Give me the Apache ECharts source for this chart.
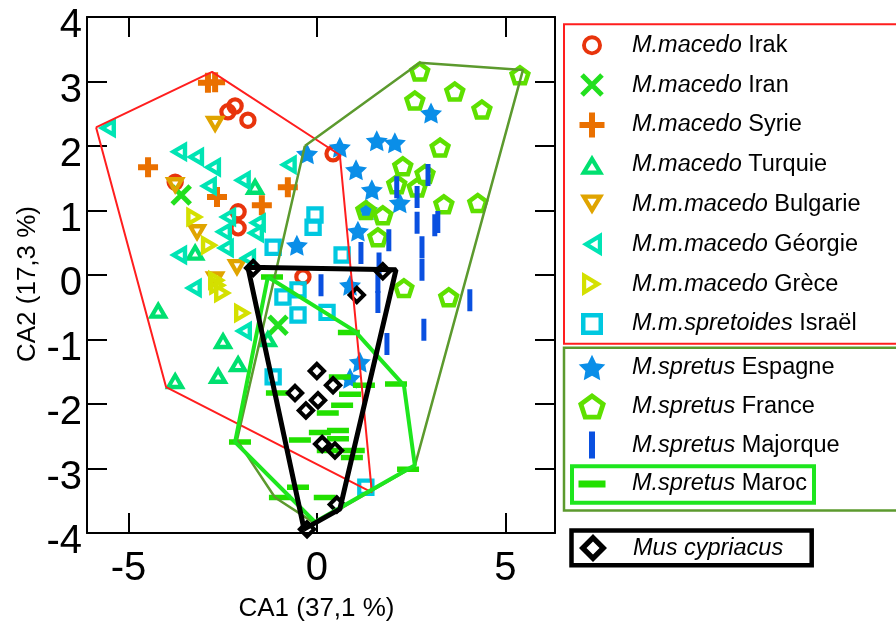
<!DOCTYPE html>
<html><head><meta charset="utf-8">
<script src="https://cdn.jsdelivr.net/npm/echarts@6/dist/echarts.min.js"></script>
<style>html,body{margin:0;padding:0;background:#fff}#c{width:896px;height:632px}</style>
</head><body><div id="c"></div>
<script>
// ---- data ----
const seriesNames = ['M.macedo Irak','M.macedo Iran','M.macedo Syrie','M.macedo Turquie','M.m.macedo Bulgarie','M.m.macedo Géorgie','M.m.macedo Grèce','M.m.spretoides Israël','M.spretus Espagne','M.spretus France','M.spretus Majorque','M.spretus Maroc','Mus cypriacus'];
const xTickValues = [-5, 0, 5];
const yTickValues = [-4, -3, -2, -1, 0, 1, 2, 3, 4];
const irak = [[-3.76,1.44],[-2.36,2.53],[-2.17,2.62],[-1.83,2.40],[-2.09,0.98],[-2.09,0.73],[-0.37,-0.03],[0.43,1.88]];
const iran = [[-3.60,1.24],[-1.03,-0.78]];
const syrie = [[-4.48,1.67],[-2.89,2.98],[-2.70,2.99],[-2.65,1.21],[-1.46,1.08],[-0.77,1.36]];
const turquie = [[-1.64,1.38],[-3.23,0.36],[-4.21,-0.54],[-2.49,-1.01],[-1.30,-0.98],[-2.09,-1.37],[-2.62,-1.55],[-3.76,-1.63]];
const bulgarie = [[-2.70,2.33],[-3.76,1.38],[-3.18,0.65],[-2.12,0.11],[-2.70,-0.08]];
const georgie = [[-5.57,2.28],[-3.68,1.91],[-3.23,1.83],[-2.78,1.67],[-0.77,1.71],[-1.99,1.47],[-2.89,1.38],[-2.38,0.90],[-2.49,0.67],[-1.59,0.81],[-1.64,0.65],[-2.44,0.42],[-3.68,0.31],[-1.85,0.26],[-3.29,-0.20],[-1.96,-0.87]];
const grece = [[-3.23,0.90],[-2.84,0.46],[-2.65,-0.08],[-2.62,-0.16],[-2.49,-0.28],[-1.96,-0.59]];
const israel = [[-0.05,0.93],[-0.10,0.74],[-1.16,0.43],[-0.90,-0.34],[-0.50,-0.23],[-0.50,-0.62],[0.67,0.31],[0.27,-0.58],[-1.16,-1.58],[1.30,-3.29]];
const espagne = [[-0.26,1.88],[0.61,1.98],[1.59,2.08],[2.07,2.05],[3.03,2.51],[1.04,1.63],[1.46,1.32],[2.20,1.12],[1.33,1.01],[1.09,0.68],[-0.53,0.46],[0.88,-0.16],[1.14,-1.35],[0.88,-1.60]];
const france = [[2.73,3.16],[5.39,3.10],[2.60,2.71],[3.66,2.85],[4.38,2.57],[3.27,1.98],[2.28,1.69],[2.87,1.57],[2.12,1.41],[2.66,1.36],[1.30,1.01],[1.75,0.93],[1.62,0.59],[3.37,1.10],[4.27,1.12],[2.31,-0.20],[3.50,-0.34]];
const majorque = [[2.95,1.55],[2.12,1.36],[2.66,1.21],[2.66,0.81],[3.13,0.77],[3.21,0.82],[1.91,0.54],[2.79,0.43],[1.17,0.34],[1.65,0.18],[2.79,0.08],[0.11,-0.16],[1.62,-0.11],[1.62,-0.42],[4.06,-0.39],[2.84,-0.85],[1.86,-1.07]];
const maroc = [[-1.19,-0.03],[0.85,-0.89],[-1.06,-1.83],[-2.04,-2.59],[-0.50,-3.29],[-0.98,-3.45],[-0.45,-2.56],[0.08,-2.44],[0.61,-1.58],[1.25,-1.71],[2.10,-1.69],[0.88,-1.85],[0.67,-2.02],[0.29,-2.14],[0.56,-2.41],[0.56,-2.54],[0.29,-2.72],[0.98,-2.72],[0.93,-2.83],[2.42,-3.01],[0.21,-3.45]];
const cypriacus = [[-1.69,0.11],[1.75,0.06],[1.06,-0.31],[0.00,-1.49],[0.43,-1.71],[0.03,-1.94],[-0.29,-2.10],[-0.58,-1.83],[0.14,-2.62],[0.48,-2.72],[0.53,-3.56],[-0.26,-3.94]];
const hullMacedo = [[-5.86,2.29],[-2.78,3.15],[0.61,1.86],[1.46,-3.37],[-4.00,-1.74],[-5.86,2.29]];
const hullSpretus = [[-0.32,2.00],[2.73,3.29],[5.47,3.18],[2.60,-2.96],[-0.05,-3.85],[-1.11,-3.45],[-2.12,-2.56],[-0.32,2.00]];
const hullMaroc = [[-1.30,-0.03],[1.01,-0.87],[2.31,-1.71],[2.60,-2.95],[-0.05,-3.83],[-2.17,-2.59],[-1.30,-0.03]];
const hullCypriacus = [[-1.83,0.12],[2.10,0.08],[0.61,-3.63],[-0.34,-3.94],[-1.83,0.12]];

// ---- styling ----
const FONT = "'Liberation Sans', Arial, sans-serif";
const A = 'M0 0h0.001v0.001zM28 28h-0.001v-0.001z'; // bounding anchors for a 28x28 frame
const P = s => 'path://' + A + s;
// markers in the plot (1 unit = 1 px at symbolSize 28)
const plotShapes = {
  circle: P('M5.3 14A8.7 8.7 0 1 1 22.7 14A8.7 8.7 0 1 1 5.3 14ZM9.5 14A4.5 4.5 0 1 0 18.5 14A4.5 4.5 0 1 0 9.5 14Z'),
  cross: P('M6.77 3.23L24.77 21.23L21.23 24.77L3.23 6.77ZM21.23 3.23L24.77 6.77L6.77 24.77L3.23 21.23Z'),
  plus: P('M11 4H17V24H11ZM4 11H24V17H4Z'),
  triUp: P('M14 5L24.5 23L3.5 23ZM14 13.2L10.9 18.6L17.1 18.6Z'),
  triDown: P('M14 23L3.5 5L24.5 5ZM14 14.8L17.1 9.4L10.9 9.4Z'),
  triLeft: P('M5 14L23 3.5L23 24.5ZM13.2 14L18.6 17.1L18.6 10.9Z'),
  triRight: P('M23 14L5 24.5L5 3.5ZM14.8 14L9.4 10.9L9.4 17.1Z'),
  square: P('M5.3 5.3H22.7V22.7H5.3ZM9.5 9.5V18.5H18.5V9.5Z'),
  star: P('M14 3.5L17.41 10.41L25.03 11.52L19.52 16.89L20.82 24.48L14 20.9L7.18 24.48L8.48 16.89L2.97 11.52L10.59 10.41Z'),
  pentagon: P('M14 3.53L25 11.52L20.8 24.46L7.2 24.46L3 11.52ZM14 9.1L8.29 13.25L10.47 19.95L17.53 19.95L19.71 13.25Z'),
  vbar: P('M11.5 3H16.5V25H11.5Z'),
  hbar: P('M3 11.25H25V16.75H3Z'),
  diamond: P('M14 4L24 14L14 24L4 14ZM14 9.66L9.66 14L14 18.34L18.34 14Z')
};
// legend icons (28 px frame)
const legendShapes = {
  circle: P('M4 14A10 10 0 1 1 24 14A10 10 0 1 1 4 14ZM7.9 14A6.1 6.1 0 1 0 20.1 14A6.1 6.1 0 1 0 7.9 14Z'),
  cross: P('M5.77 2.23L25.77 22.23L22.23 25.77L2.23 5.77ZM22.23 2.23L25.77 5.77L5.77 25.77L2.23 22.23Z'),
  plus: P('M11 1.5H17V26.5H11ZM1.5 11H26.5V17H1.5Z'),
  triUp: P('M14 4L26 24L2 24ZM14 12.2L9.4 19.8L18.6 19.8Z'),
  triDown: P('M14 24L2 4L26 4ZM14 15.8L18.6 8.2L9.4 8.2Z'),
  triLeft: P('M4 14L24 2L24 26ZM12.2 14L19.8 18.6L19.8 9.4Z'),
  triRight: P('M24 14L4 26L4 2ZM15.8 14L8.2 9.4L8.2 18.6Z'),
  square: P('M3 3H25V25H3ZM7.5 7.5V20.5H20.5V7.5Z'),
  star: P('M14 1.3L18.12 9.64L27.31 10.97L20.66 17.46L22.23 26.63L14 22.3L5.77 26.63L7.34 17.46L0.69 10.97L9.88 9.64Z'),
  pentagon: P('M14 0.7L27.98 10.86L22.64 27.29L5.36 27.29L0.02 10.86ZM14 6.7L5.73 12.71L8.89 22.44L19.11 22.44L22.27 12.71Z'),
  vbar: P('M11 0.5H17V27.5H11Z'),
  hbar: P('M0.5 10.5H27.5V17.5H0.5Z'),
  diamond: P('M14 0L28 14L14 28L0 14ZM14 7.5L7.5 14L14 20.5L20.5 14Z')
};
const seriesData = [irak, iran, syrie, turquie, bulgarie, georgie, grece, israel, espagne, france, majorque, maroc, cypriacus];
const seriesSymbols = ['circle','cross','plus','triUp','triDown','triLeft','triRight','square','star','pentagon','vbar','hbar','diamond'];
const seriesColors = ['#e8340c','#22e01e','#ea7000','#00e070','#e0a400','#00e4b4','#d4e000','#00c8e0','#0a8ee8','#5ee000','#0a50e0','#22e000','#000000'];

const scatter = seriesNames.map((n, i) => ({
  name: n, type: 'scatter', data: seriesData[i],
  symbol: plotShapes[seriesSymbols[i]], symbolSize: 28, symbolKeepAspect: true,
  itemStyle: { color: seriesColors[i], opacity: 1 },
  emphasis: { disabled: true }, z: 2
}));
const hull = (data, color, width) => ({
  type: 'line', data, symbol: 'none', silent: true, z: 3,
  lineStyle: { color, width }, emphasis: { disabled: true }
});

const fmt = name => {
  if (name === 'Mus cypriacus') return '{i|' + name + '}';
  const k = name.indexOf(' ');
  return '{i|' + name.slice(0, k) + '} ' + name.slice(k + 1);
};
const LFS = 23.5;
const legendBase = {
  orient: 'vertical', padding: 0, itemWidth: 28, itemHeight: 28,
  symbolKeepAspect: true, selectedMode: false, formatter: fmt,
  textStyle: { fontSize: LFS, fontFamily: FONT, color: '#000', lineHeight: 28, padding: [0, 0, 0, 21],
    rich: { i: { fontStyle: 'italic', fontSize: LFS, fontFamily: FONT, color: '#000', lineHeight: 28 } } }
};
const legendItems = (from, to) => seriesNames.slice(from, to).map((n, k) => ({ name: n, icon: legendShapes[seriesSymbols[from + k]] }));

const axisCommon = {
  type: 'value', splitLine: { show: false },
  axisLine: { show: true, onZero: false, lineStyle: { color: '#000', width: 2 } },
  axisTick: { show: true, inside: true, length: 20, lineStyle: { color: '#000', width: 2 } }
};

const option = {
  animation: false,
  backgroundColor: '#fff',
  grid: { left: 87, right: 341, top: 17, bottom: 99 },
  xAxis: [
    Object.assign({}, axisCommon, { position: 'bottom', min: -6.1, max: 6.32,
      axisTick: Object.assign({}, axisCommon.axisTick, { customValues: xTickValues }),
      axisLabel: { customValues: xTickValues, fontSize: 40, fontFamily: FONT, color: '#000', margin: 16 } }),
    Object.assign({}, axisCommon, { position: 'top', min: -6.1, max: 6.32,
      axisTick: Object.assign({}, axisCommon.axisTick, { customValues: xTickValues }),
      axisLabel: { show: false } })
  ],
  yAxis: [
    Object.assign({}, axisCommon, { position: 'left', min: -4, max: 4, interval: 1,
      axisTick: Object.assign({}, axisCommon.axisTick, { customValues: yTickValues }),
      axisLabel: { customValues: yTickValues, fontSize: 40, fontFamily: FONT, color: '#000', margin: 5, verticalAlign: 'top', lineHeight: 18 } }),
    Object.assign({}, axisCommon, { position: 'right', min: -4, max: 4, interval: 1,
      axisTick: Object.assign({}, axisCommon.axisTick, { customValues: yTickValues }),
      axisLabel: { show: false } })
  ],
  legend: [
    Object.assign({}, legendBase, { left: 578, top: 31.3, itemGap: 11.8, data: legendItems(0, 8) }),
    Object.assign({}, legendBase, { left: 578, top: 353.5, itemGap: 10.8, data: legendItems(8, 12) }),
    Object.assign({}, legendBase, { left: 579, top: 534, itemGap: 10, data: legendItems(12, 13) })
  ],
  graphic: [
    { type: 'rect', shape: { x: 564, y: 24.3, width: 340, height: 319.4 }, style: { fill: null, stroke: '#ff1e1e', lineWidth: 2 } },
    { type: 'rect', shape: { x: 564, y: 347.8, width: 340, height: 162.7 }, style: { fill: null, stroke: '#5c9a2e', lineWidth: 2.5 } },
    { type: 'rect', shape: { x: 572, y: 466.3, width: 242, height: 36.4 }, style: { fill: null, stroke: '#1ee61e', lineWidth: 4 } },
    { type: 'rect', shape: { x: 571.5, y: 530.5, width: 240.2, height: 34.8 }, style: { fill: null, stroke: '#000', lineWidth: 4.5 } },
    { type: 'text', x: 316.5, y: 609, style: { text: 'CA1 (37,1 %)', fontSize: 26, fontFamily: FONT, fill: '#000', align: 'center', verticalAlign: 'middle' } },
    { type: 'text', x: 28, y: 284, rotation: Math.PI / 2, style: { text: 'CA2 (17,3 %)', fontSize: 26, fontFamily: FONT, fill: '#000', align: 'center', verticalAlign: 'middle' } }
  ],
  series: scatter.concat([
    hull(hullMacedo, '#ff1e1e', 2),
    hull(hullSpretus, '#5c9a2e', 2.5),
    hull(hullMaroc, '#1ee61e', 4),
    hull(hullCypriacus, '#000000', 5)
  ])
};
const chart = echarts.init(document.getElementById('c'), null, { renderer: 'canvas' });
chart.setOption(option);
</script></body></html>
